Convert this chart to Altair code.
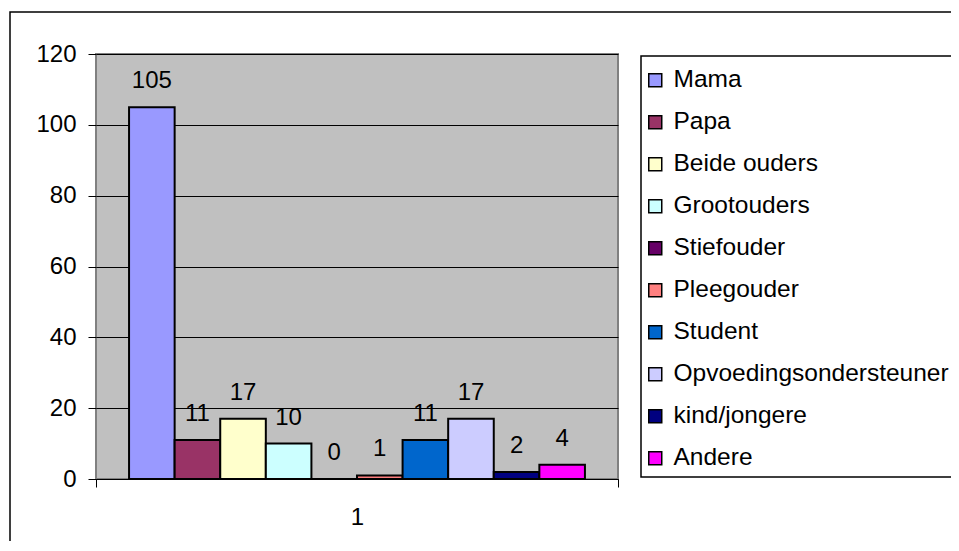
import altair as alt
import pandas as pd

series = ["Mama", "Papa", "Beide ouders", "Grootouders", "Stiefouder",
          "Pleegouder", "Student", "Opvoedingsondersteuner", "kind/jongere", "Andere"]
values = [105, 11, 17, 10, 0, 1, 11, 17, 2, 4]
colors = ["#9999FF", "#993366", "#FFFFCC", "#CCFFFF", "#660066",
          "#FF8080", "#0066CC", "#CCCCFF", "#000080", "#FF00FF"]
category = "1"
y_ticks = [0, 20, 40, 60, 80, 100, 120]

FONT = "Liberation Sans"
FS = 24

df = pd.DataFrame({"cat": [category] * len(series), "serie": series, "waarde": values})
one = pd.DataFrame({"a": [0]})

x_enc = alt.X("cat:N", title=None,
              scale=alt.Scale(paddingInner=0, paddingOuter=0),
              axis=alt.Axis(labelAngle=0, tickBand="extent", tickSize=8, tickColor="black",
                            domainColor="black", domainWidth=1, labelPadding=18,
                            labelFont=FONT, labelFontSize=FS, labelColor="black", grid=False))
xo_enc = alt.XOffset("serie:N", sort=series,
                     scale=alt.Scale(paddingInner=0, paddingOuter=0.725))
y_enc = alt.Y("waarde:Q", title=None,
              scale=alt.Scale(domain=[0, 120], nice=False),
              axis=alt.Axis(values=y_ticks, tickSize=8, tickColor="black", domain=False,
                            grid=True, gridColor="black", gridWidth=1, labelPadding=12,
                            labelFont=FONT, labelFontSize=FS, labelColor="black"))

outer = alt.Chart(one).mark_rect(filled=False, stroke="black", strokeWidth=1.5).encode(
    x=alt.value(-86), x2=alt.value(1500), y=alt.value(-42), y2=alt.value(1000))

legend_box = alt.Chart(one).mark_rect(fill="white", stroke="black", strokeWidth=1.5).encode(
    x=alt.value(545), x2=alt.value(1500), y=alt.value(2), y2=alt.value(423))

bars = alt.Chart(df).mark_bar(stroke="black", strokeWidth=2).encode(
    x=x_enc, xOffset=xo_enc, y=y_enc,
    color=alt.Color("serie:N", sort=series,
                    scale=alt.Scale(domain=series, range=colors),
                    legend=alt.Legend(title=None, orient="none", legendX=547, legendY=14,
                                      symbolType="square", symbolSize=169,
                                      symbolStrokeColor="black", symbolStrokeWidth=1.5,
                                      symbolOpacity=1,
                                      labelFont=FONT, labelFontSize=24.5, labelColor="black",
                                      labelOffset=6, rowPadding=17, padding=0,
                                      labelLimit=400)))

labels = alt.Chart(df).mark_text(font=FONT, fontSize=FS, color="black",
                                 baseline="alphabetic", dy=-19).encode(
    x=x_enc, xOffset=xo_enc, y=y_enc, text=alt.Text("waarde:Q"))

chart = alt.layer(outer, legend_box, bars, labels).properties(
    width=522, height=425,
    autosize=alt.AutoSizeParams(type="none"),
    padding={"left": 88, "top": 46, "right": 333, "bottom": 62},
    background="white",
).configure_view(fill="#C0C0C0", stroke="#808080", strokeWidth=2)

chart.save("out.html", embed_options={"renderer": "svg", "actions": False})
